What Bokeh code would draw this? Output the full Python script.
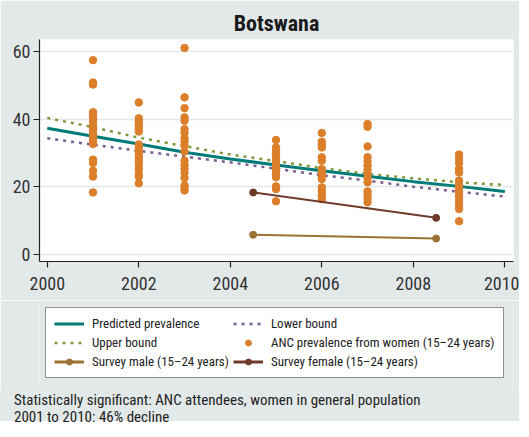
from bokeh.plotting import figure
from bokeh.layouts import column
from bokeh.models import Range1d, Legend, LegendItem, FixedTicker, Div
from bokeh.embed import file_html
from bokeh.resources import INLINE

# ---- data ----
years_line = [2000, 2001, 2002, 2003, 2004, 2005, 2006, 2007, 2008, 2009, 2010]
predicted = [37.3, 34.9, 32.6, 30.2, 28.2, 26.4, 24.7, 23.1, 21.5, 20.1, 18.6]
upper = [40.3, 37.6, 34.5, 32.0, 29.5, 27.6, 25.5, 23.8, 22.5, 21.3, 20.5]
lower = [34.3, 32.4, 30.6, 28.9, 27.2, 25.3, 23.4, 21.8, 20.0, 18.5, 17.1]

anc_2001 = [57.4, 50.8, 50.2, 42.0, 41.0, 40.0, 39.0, 38.0, 37.0, 36.5, 35.5, 34.5, 33.5, 32.6, 28.0, 27.0, 24.7, 23.0, 18.3]
anc_2002 = [44.9, 40.2, 39.5, 38.7, 38.0, 37.2, 36.3, 32.5, 31.5, 30.5, 29.5, 28.5, 27.5, 26.5, 25.2, 23.7, 23.0, 21.0]
anc_2003 = [61.0, 46.4, 43.2, 40.5, 39.5, 37.0, 36.0, 34.3, 33.3, 32.2, 30.4, 27.7, 26.5, 25.3, 24.2, 22.6, 20.4, 19.5, 18.9]
anc_2005 = [33.8, 31.6, 30.5, 29.5, 28.5, 27.5, 26.5, 25.5, 24.5, 23.5, 22.8, 20.1, 19.3, 15.7]
anc_2006 = [35.9, 33.3, 32.4, 31.6, 28.7, 27.7, 25.2, 24.2, 23.3, 22.3, 19.8, 18.6, 17.4, 16.3]
anc_2007 = [38.5, 37.7, 31.9, 28.7, 27.5, 26.2, 25.0, 23.8, 22.5, 21.3, 18.6, 17.5, 16.5, 15.4]
anc_2009 = [29.5, 28.3, 27.0, 25.2, 24.2, 21.8, 20.6, 19.5, 18.3, 17.1, 15.9, 14.7, 13.4, 9.8]
anc_years = [2001, 2002, 2003, 2005, 2006, 2007, 2009]

survey_years = [2004.5, 2008.5]
survey_male = [5.8, 4.7]
survey_female = [18.3, 10.8]

x_ticks = [2000, 2002, 2004, 2006, 2008, 2010]
y_ticks = [0, 20, 40, 60]

title_text = "Botswana"
caption_lines = ["Statistically significant: ANC attendees, women in general population",
                 "2001 to 2010: 46% decline"]

FONT = "Roboto Condensed, DejaVu Sans Condensed, Lato"
BG = "#e3e9e9"
C_UP, C_LO, C_PRED = "#7a9a3c", "#7b5c8c", "#007b78"
C_ANC, C_FEM, C_MALE = "#dc7f2a", "#6e3a2a", "#9a7232"

anc_x, anc_y = [], []
for yr, vals in zip(anc_years, [anc_2001, anc_2002, anc_2003, anc_2005, anc_2006, anc_2007, anc_2009]):
    anc_x += [yr] * len(vals)
    anc_y += vals

W = 519
fig = figure(width=W, height=300, output_backend="svg", toolbar_location=None,
             x_range=Range1d(1999.83, 2010.19), y_range=Range1d(-2.1, 63.5),
             min_border_left=39, min_border_right=6, min_border_top=39, min_border_bottom=39)
fig.background_fill_color = "white"
fig.border_fill_color = BG
fig.outline_line_color = None

fig.title.text = title_text
fig.title.align = "center"
fig.title.text_font = FONT
fig.title.text_font_size = "22px"
fig.title.text_font_style = "bold"
fig.title.text_color = "#1a1a1a"
fig.title.standoff = 8

for ax in (fig.xaxis[0], fig.yaxis[0]):
    ax.axis_line_color = "#222222"
    ax.axis_line_width = 1.2
    ax.major_tick_line_color = "#222222"
    ax.major_tick_line_width = 1.2
    ax.major_tick_out = 6
    ax.major_tick_in = 0
    ax.minor_tick_line_color = None
    ax.major_label_text_font = FONT
    ax.major_label_text_font_size = "18px"
    ax.major_label_text_color = "#333333"
fig.xaxis[0].ticker = FixedTicker(ticks=x_ticks)
fig.yaxis[0].ticker = FixedTicker(ticks=y_ticks)
fig.xaxis[0].major_label_standoff = 9
fig.yaxis[0].major_label_standoff = 3

fig.xgrid.grid_line_color = None
fig.ygrid.ticker = FixedTicker(ticks=y_ticks)
fig.ygrid.grid_line_color = "#e3e7e7"
fig.ygrid.grid_line_width = 1.5

fig.line(years_line, upper, line_color=C_UP, line_width=2.5, line_dash="3 5")
fig.line(years_line, lower, line_color=C_LO, line_width=2.5, line_dash="3 5")
fig.line(years_line, predicted, line_color=C_PRED, line_width=3)
fig.scatter(anc_x, anc_y, size=7.5, fill_color=C_ANC, line_color=C_ANC)
fig.line(survey_years, survey_female, line_color=C_FEM, line_width=2)
fig.scatter(survey_years, survey_female, size=7, fill_color=C_FEM, line_color=C_FEM)
fig.line(survey_years, survey_male, line_color=C_MALE, line_width=2)
fig.scatter(survey_years, survey_male, size=7, fill_color=C_MALE, line_color=C_MALE)

# ---- legend panel (frame is aligned with the chart frame by the column layout) ----
leg = figure(width=W, height=90, output_backend="svg", toolbar_location=None,
             x_range=Range1d(0, 1), y_range=Range1d(0, 1),
             x_axis_location=None, y_axis_location=None,
             min_border=0, min_border_left=0, min_border_right=0, min_border_top=0, min_border_bottom=0)
leg.background_fill_color = BG
leg.border_fill_color = BG
leg.outline_line_color = None
leg.grid.visible = False

# legend proxies, placed outside the visible 0..1 range of this panel
px, py = [5, 6], [5, 6]
g_pred = leg.line(px, py, line_color=C_PRED, line_width=3)
g_up = leg.line(px, py, line_color=C_UP, line_width=2.5, line_dash="3 5")
g_lo = leg.line(px, py, line_color=C_LO, line_width=2.5, line_dash="3 5")
g_anc = leg.scatter(px, py, size=7, fill_color=C_ANC, line_color=C_ANC)
g_ml = leg.line(px, py, line_color=C_MALE, line_width=3)
g_ms = leg.scatter(px, py, size=8, fill_color=C_MALE, line_color=C_MALE)
g_fl = leg.line(px, py, line_color=C_FEM, line_width=3)
g_fs = leg.scatter(px, py, size=8, fill_color=C_FEM, line_color=C_FEM)

items = [
    LegendItem(label="Predicted prevalence", renderers=[g_pred]),
    LegendItem(label="Upper bound", renderers=[g_up]),
    LegendItem(label="Survey male (15–24 years)", renderers=[g_ml, g_ms]),
    LegendItem(label="Lower bound", renderers=[g_lo]),
    LegendItem(label="ANC prevalence from women (15–24 years)", renderers=[g_anc]),
    LegendItem(label="Survey female (15–24 years)", renderers=[g_fl, g_fs]),
]
legend = Legend(items=items, ncols=2, location=(6, 12),
                label_text_font=FONT, label_text_font_size="13px", label_text_color="#222222",
                glyph_width=30, glyph_height=15, label_height=15, label_standoff=8,
                spacing=4, padding=8, margin=0,
                border_line_color="#222222", border_line_width=1.2,
                background_fill_color="white", background_fill_alpha=1)
leg.add_layout(legend)

cap_html = "<br>".join(caption_lines)
caption = Div(text=cap_html, width=W, height=31, margin=(0, 0, 0, 0),
              styles={"background-color": BG, "font-family": "'Roboto Condensed', sans-serif",
                      "font-size": "15px", "line-height": "17px", "color": "#222222",
                      "padding-left": "14px", "padding-top": "2px", "box-sizing": "border-box"})

p = column(fig, leg, caption, spacing=0)
open("out.html", "w").write(file_html(p, INLINE))
